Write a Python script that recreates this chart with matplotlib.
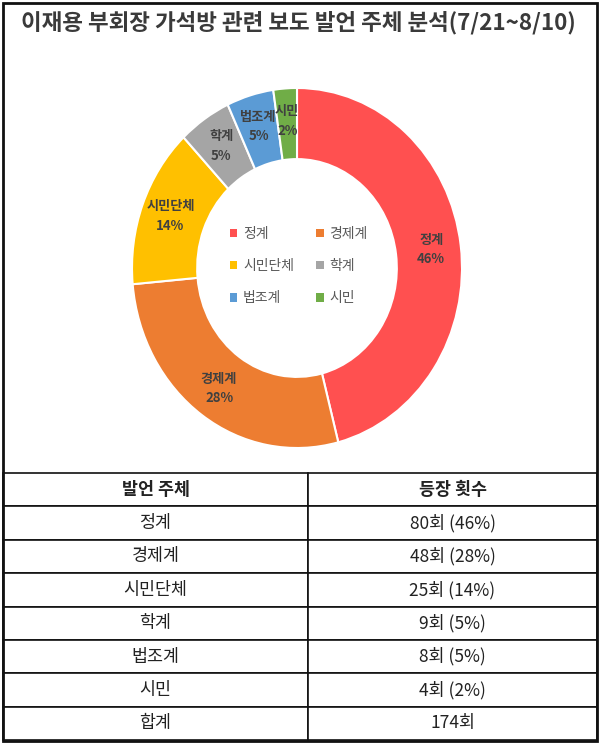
import matplotlib
matplotlib.use("Agg")
import matplotlib.pyplot as plt
from matplotlib.patches import Rectangle, Patch
import numpy as np

plt.rcParams['font.family'] = ['Noto Sans CJK KR', 'DejaVu Sans']

title = "이재용 부회장 가석방 관련 보도 발언 주체 분석(7/21~8/10)"
categories = ["정계", "경제계", "시민단체", "학계", "법조계", "시민"]
counts = [80, 48, 25, 9, 8, 4]
colors = ["#FF5050", "#ED7D31", "#FFC000", "#A5A5A5", "#5B9BD5", "#70AD47"]
col_headers = ["발언 주체", "등장 횟수"]
total_label = "합계"

total = sum(counts)
pcts = [round(100 * c / total) for c in counts]

W, H = 600, 746
fig = plt.figure(figsize=(W / 100, H / 100), dpi=100)

def fx(x):
    return x / W

def fy(y):
    return 1 - y / H

# Donut axes: outer ellipse x 132..462, y 88..448
ax = fig.add_axes([fx(132), fy(448), (462 - 132) / W, (448 - 88) / H])
wedges, _ = ax.pie(counts, colors=colors, startangle=90, counterclock=False,
                   radius=1.0, wedgeprops=dict(width=0.395, edgecolor="white", linewidth=1.5))
ax.set_aspect('auto')
ax.set_xlim(-1, 1)
ax.set_ylim(-1, 1)
ax.axis('off')

for w, name, p in zip(wedges, categories, pcts):
    ang = np.deg2rad((w.theta1 + w.theta2) / 2)
    r = 0.82
    ax.text(r * np.cos(ang), r * np.sin(ang), f"{name}\n{p}%", ha='center', va='center',
            fontsize=9.5, fontweight='bold', color='#404040', linespacing=1.5)

# legend filled row-major like the reference
order = [0, 2, 4, 1, 3, 5]
handles = [Patch(facecolor=colors[i], edgecolor='none') for i in order]
labels = [categories[i] for i in order]
leg = ax.legend(handles, labels, ncol=2, loc='center', bbox_to_anchor=(0.505, 0.505),
                frameon=False, fontsize=10, labelcolor='#595959', handlelength=0.55,
                handleheight=0.55, handletextpad=0.4, columnspacing=1.6, labelspacing=1.3)

# Title
fig.text(fx(298), fy(23), title, ha='center', va='center', fontsize=16.2,
         fontweight='bold', color='#3a3a3a')

# Table
tax = fig.add_axes([fx(3), fy(740), (597 - 3) / W, (740 - 473) / H])
tax.axis('off')
cell_text = [[n, f"{c}회 ({p}%)"] for n, c, p in zip(categories, counts, pcts)]
cell_text.append([total_label, f"{total}회"])
tbl = tax.table(cellText=cell_text, colLabels=col_headers, cellLoc='center',
                colWidths=[305 / 594, 289 / 594], bbox=[0, 0, 1, 1])
tbl.auto_set_font_size(False)
for (r, c), cell in tbl.get_celld().items():
    cell.set_edgecolor('#111111')
    cell.set_linewidth(1.2)
    cell.get_text().set_fontsize(12.5)
    cell.get_text().set_color('#222222')
    if r == 0:
        cell.get_text().set_fontweight('bold')

# Outer border
fig.patches.append(Rectangle((fx(3), fy(741)), (597 - 3) / W, (741 - 3) / H,
                             transform=fig.transFigure, fill=False, edgecolor='#111111',
                             linewidth=2))

fig.savefig("out.png", dpi=100)
